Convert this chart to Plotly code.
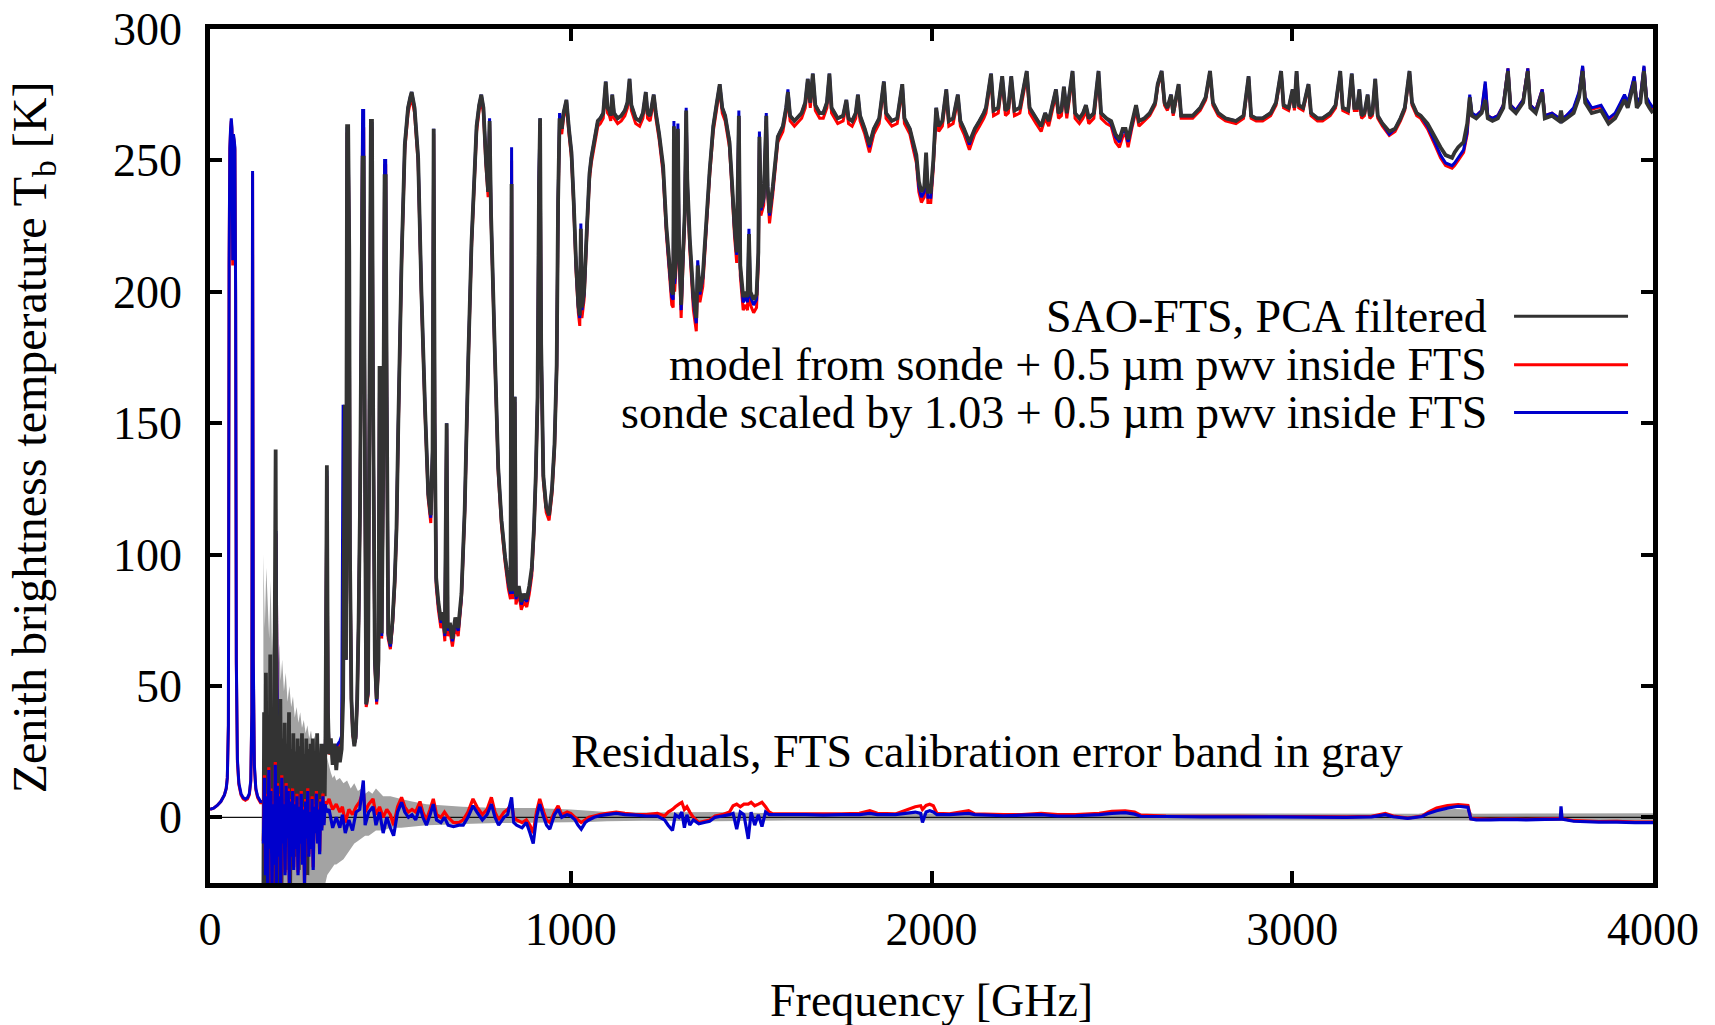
import plotly.graph_objects as go

# ---------------- axes ----------------
x_range = [0, 4000]
y_range = [-25, 300]
x_ticks = [0, 1000, 2000, 3000, 4000]
y_ticks = [0, 50, 100, 150, 200, 250, 300]

# ---------------- SAO-FTS (black), low-frequency noisy part ----------------
lf_fts_freq = [148, 150, 152, 155, 158, 161, 164, 167, 170, 173,
               176, 179, 182, 184, 186, 189, 192, 195, 198, 201,
               204, 207, 210, 213, 216, 219, 222, 225, 228, 231,
               234, 237, 240, 243, 246, 249, 252, 255, 258, 261,
               264, 267, 270, 273, 276, 279, 282, 285, 288, 291,
               294, 297, 300, 303, 306, 309, 312, 315, 318]
lf_fts_tb = [-30, 40, -30, 55, -20, 30, -30, 62, -15, 35,
             -30, 60, 140, 40, -30, 38, -10, 45, -30, 30,
             0, 36, -20, 28, -5, 40, -30, 26, 2, 32,
             -15, 25, 5, 30, -20, 27, 0, 32, -12, 24,
             3, 30, -22, 26, 6, 28, -5, 30, 8, 25,
             -2, 32, 10, 22, 2, 28, 12, 20, 8]

# ---------------- model (red/blue), below 320 GHz ----------------
lf_model_freq = [0, 10, 20, 30, 40, 45, 48, 51, 53, 55,
                 57, 59, 61, 63, 65, 67, 69, 71, 73, 76,
                 80, 86, 92, 98, 104, 109, 113, 116, 118, 120,
                 123, 127, 132, 140, 150, 160, 168, 173, 177, 180,
                 183, 186, 189, 193, 200, 215, 235, 255, 275, 295,
                 310, 316]
lf_blue = [3, 3.5, 4.5, 6, 8.5, 11, 15, 35, 212, 255,
           262, 266, 262, 212, 260, 258, 255, 200, 60, 22,
           13, 9, 7.5, 7, 7.5, 9, 14, 40, 246, 60,
           20, 11, 8, 6, 6, 6.5, 8, 12, 25, 60,
           109, 50, 20, 13, 10, 9.5, 11, 13, 16, 19,
           23, 27]
lf_red = [3, 3.5, 4.5, 6, 8.5, 11, 15, 35, 210, 254,
          261, 265, 261, 210, 259, 257, 254, 198, 58, 21,
          12.5, 8.5, 7, 6.5, 7, 8.5, 13.5, 39, 245, 58,
          19, 10.5, 7.5, 5.5, 5.5, 6, 7.5, 11.5, 24, 58,
          108, 49, 19, 12.5, 9.5, 9, 10.5, 12.5, 15.5, 18.5,
          22.5, 26.5]

# ---------------- common grid above 320 GHz ----------------
hf_freq = [320, 324, 327, 330, 335, 340, 345, 350, 355, 360,
           365, 369, 371, 374, 377, 380, 383, 386, 388, 392,
           396, 400, 404, 408, 412, 416, 420, 423, 426, 429,
           433, 438, 442, 446, 449, 452, 457, 462, 467, 470,
           473, 476, 480, 484, 487, 490, 494, 500, 506, 512,
           517, 522, 531, 540, 549, 555, 559, 563, 567, 577,
           586, 596, 605, 612, 617, 620, 623, 627, 633, 640,
           646, 651, 656, 659, 665, 672, 680, 688, 697, 706,
           716, 725, 739, 746, 752, 758, 765, 771, 775, 779,
           785, 790, 799, 808, 818, 827, 833, 836, 839, 845,
           848, 856, 863, 870, 878, 885, 892, 898, 903, 908,
           912, 915, 918, 924, 932, 940, 948, 955, 961, 965,
           969, 975, 980, 988, 995, 1002, 1008, 1015, 1021, 1025,
           1028, 1031, 1037, 1045, 1052, 1057, 1066, 1075, 1082, 1090,
           1097, 1102, 1107, 1111, 1115, 1120, 1130, 1140, 1150, 1157,
           1163, 1168, 1180, 1191, 1200, 1208, 1213, 1220, 1230, 1236,
           1245, 1256, 1265, 1274, 1280, 1284, 1286, 1288, 1293, 1297,
           1300, 1306, 1310, 1316, 1320, 1323, 1330, 1340, 1348, 1352,
           1358, 1366, 1375, 1385, 1395, 1405, 1413, 1420, 1428, 1440,
           1446, 1454, 1460, 1466, 1470, 1478, 1485, 1490, 1494, 1498,
           1507, 1515, 1520, 1523, 1527, 1535, 1542, 1546, 1551, 1560,
           1574, 1588, 1597, 1602, 1608, 1620, 1640, 1650, 1657, 1664,
           1671, 1678, 1690, 1700, 1710, 1717, 1723, 1740, 1755, 1764,
           1770, 1780, 1790, 1796, 1802, 1815, 1828, 1840, 1855, 1868,
           1874, 1890, 1905, 1919, 1925, 1940, 1958, 1965, 1972, 1980,
           1985, 1990, 1998, 2005, 2013, 2020, 2030, 2041, 2048, 2060,
           2073, 2080, 2090, 2105, 2120, 2133, 2145, 2151, 2165, 2172,
           2185, 2196, 2205, 2213, 2221, 2230, 2245, 2264, 2272, 2290,
           2304, 2315, 2325, 2345, 2352, 2360, 2367, 2375, 2391, 2398,
           2410, 2420, 2428, 2436, 2450, 2463, 2470, 2485, 2498, 2510,
           2521, 2530, 2538, 2545, 2555, 2567, 2575, 2590, 2605, 2620,
           2627, 2638, 2646, 2654, 2664, 2670, 2685, 2692, 2705, 2724,
           2745, 2760, 2772, 2780, 2795, 2815, 2844, 2865, 2879, 2886,
           2900, 2918, 2940, 2955, 2969, 2976, 2990, 3001, 3006, 3012,
           3018, 3030, 3045, 3052, 3070, 3084, 3105, 3120, 3133, 3140,
           3155, 3165, 3172, 3180, 3186, 3192, 3200, 3209, 3215, 3222,
           3230, 3237, 3250, 3269, 3285, 3300, 3312, 3325, 3332, 3345,
           3356, 3375, 3395, 3411, 3425, 3443, 3450, 3460, 3475, 3485,
           3492, 3498, 3510, 3525, 3535, 3542, 3555, 3570, 3585, 3598,
           3605, 3620, 3640, 3653, 3660, 3675, 3693, 3700, 3720, 3740,
           3745, 3750, 3760, 3780, 3795, 3805, 3812, 3830, 3856, 3877,
           3895, 3910, 3921, 3930, 3948, 3955, 3965, 3975, 3982, 3990,
           4000]

hf_fts = [30, 134, 40, 24, 30, 20, 28, 18, 27, 21,
          26, 45, 100, 157, 60, 263, 263, 215, 100, 45,
          32, 27, 31, 45, 75, 120, 200, 251, 251, 150,
          43, 48, 160, 265, 265, 160, 60, 45, 60, 171,
          171, 70, 130, 244, 244, 160, 70, 66, 75, 90,
          110, 150, 212, 256, 270, 274, 276, 273, 270, 251,
          200, 156, 123, 115, 140, 262, 150, 91, 82, 75,
          78, 70, 150, 72, 74, 68, 76, 72, 85, 117,
          175, 219, 263, 271, 275, 270, 250, 238, 265, 230,
          200, 175, 133, 113, 99, 90, 86, 241, 86, 160,
          84, 88, 82, 85, 83, 88, 95, 110, 130, 160,
          240, 266, 180, 130, 118, 115, 125, 142, 172, 235,
          266, 262, 268, 273, 262, 253, 235, 210, 195, 191,
          224, 194, 200, 225, 245, 251, 258, 265, 266, 268,
          280, 270, 269, 267, 275, 268, 266, 267, 269, 272,
          281, 271, 266, 265, 268, 276, 268, 267, 275, 268,
          260, 248, 225, 210, 200, 199, 263, 205, 215, 262,
          220, 195, 210, 230, 269, 243, 220, 198, 190, 210,
          200, 206, 225, 246, 263, 272, 279, 270, 267, 257,
          244, 225, 215, 267, 210, 198, 200, 198, 222, 200,
          197, 199, 215, 259, 232, 236, 267, 240, 230, 240,
          259, 263, 270, 276, 267, 265, 268, 272, 281, 272,
          283, 271, 268, 268, 272, 283, 270, 266, 267, 273,
          266, 265, 268, 275, 267, 262, 256, 262, 266, 280,
          268, 265, 266, 279, 266, 262, 252, 242, 238, 240,
          253, 238, 238, 250, 270, 263, 265, 277, 265, 266,
          275, 265, 262, 257, 262, 265, 268, 270, 283, 269,
          270, 282, 269, 270, 282, 269, 270, 284, 270, 266,
          263, 268, 265, 277, 268, 269, 278, 268, 284, 268,
          266, 268, 271, 266, 268, 284, 268, 266, 265, 260,
          258, 262, 262, 258, 264, 271, 265, 266, 268, 272,
          279, 284, 272, 270, 275, 268, 279, 267, 267, 267,
          270, 274, 284, 272, 268, 266, 265, 267, 282, 267,
          266, 266, 268, 272, 284, 271, 270, 277, 270, 284,
          271, 270, 279, 268, 266, 266, 268, 271, 284, 270,
          269, 283, 270, 270, 277, 267, 268, 275, 267, 268,
          281, 267, 264, 261, 262, 266, 270, 284, 272, 268,
          267, 264, 259, 255, 252, 251, 253, 255, 257, 264,
          274, 267, 266, 268, 273, 266, 265, 266, 270, 284,
          270, 268, 272, 284, 270, 268, 276, 266, 267, 265,
          269, 265, 266, 268, 274, 284, 272, 268, 269, 264,
          266, 270, 273, 270, 280, 270, 272, 284, 272, 270,
          268]

hf_red = [28, 130, 40, 24, 25, 25, 26, 26, 27, 28,
          30, 60, 90, 150, 60, 260, 260, 212, 100, 44,
          31, 28, 30, 44, 74, 118, 200, 262, 262, 150,
          42, 46, 158, 262, 262, 158, 58, 43, 58, 168,
          168, 68, 128, 248, 248, 158, 68, 64, 73, 88,
          108, 148, 210, 254, 268, 272, 274, 271, 268, 249,
          198, 154, 121, 112, 138, 260, 148, 88, 79, 72,
          75, 67, 148, 69, 71, 65, 73, 69, 83, 115,
          173, 217, 261, 269, 273, 268, 248, 236, 264, 228,
          198, 173, 131, 111, 97, 87, 83, 250, 83, 158,
          81, 85, 79, 82, 80, 85, 92, 108, 128, 158,
          240, 264, 178, 128, 116, 113, 123, 140, 170, 233,
          264, 260, 266, 271, 260, 251, 233, 207, 192, 187,
          222, 190, 197, 223, 243, 249, 256, 263, 264, 266,
          278, 268, 267, 265, 273, 266, 264, 265, 267, 270,
          279, 269, 264, 263, 266, 274, 266, 265, 273, 266,
          258, 245, 222, 206, 195, 194, 262, 200, 211, 261,
          216, 190, 206, 227, 268, 240, 216, 193, 185, 206,
          196, 202, 222, 244, 261, 270, 277, 268, 265, 255,
          241, 221, 211, 266, 206, 193, 195, 193, 218, 195,
          192, 194, 211, 257, 229, 233, 265, 237, 226, 237,
          257, 261, 268, 274, 265, 263, 266, 270, 279, 270,
          281, 269, 266, 266, 270, 281, 268, 264, 265, 271,
          264, 263, 266, 273, 265, 260, 253, 260, 264, 278,
          266, 263, 264, 277, 264, 260, 249, 238, 234, 236,
          250, 234, 234, 247, 268, 261, 263, 275, 263, 264,
          273, 263, 260, 254, 260, 263, 266, 268, 281, 267,
          268, 280, 267, 268, 280, 267, 268, 282, 268, 264,
          261, 266, 263, 275, 266, 267, 276, 266, 282, 266,
          264, 266, 269, 264, 266, 282, 266, 264, 263, 257,
          255, 259, 260, 255, 262, 269, 263, 265, 267, 271,
          278, 283, 271, 269, 274, 267, 278, 266, 266, 266,
          269, 273, 283, 271, 267, 265, 264, 266, 281, 266,
          265, 265, 267, 271, 283, 270, 269, 276, 269, 283,
          270, 269, 278, 267, 265, 265, 267, 270, 283, 269,
          268, 282, 269, 269, 276, 266, 267, 274, 266, 267,
          280, 266, 263, 259.5, 261, 265, 269, 283, 271, 267,
          266, 262, 256, 251, 248, 247, 248, 250, 253, 260,
          274, 267, 267, 269, 279, 267, 266, 267, 271, 285,
          271, 269, 273, 285, 271, 269, 277, 267, 268, 266,
          266, 266, 267, 269.5, 275.5, 285.5, 273.5, 269.5, 270.5, 265.5,
          267.5, 271.5, 274.5, 271.5, 281.5, 271.5, 273.5, 285.5, 273.5, 271.5,
          269.5]

hf_blue = [28, 132, 40, 25, 26, 26, 27, 27, 28, 29,
           31, 157, 100, 150, 60, 262, 262, 214, 100, 45,
           32, 28, 30, 45, 75, 120, 200, 269, 269, 150,
           43, 47, 160, 264, 264, 160, 59, 44, 59, 170,
           170, 69, 130, 250, 250, 160, 69, 65, 74, 90,
           110, 150, 212, 256, 270, 274, 276, 273, 270, 251,
           200, 156, 123, 114, 140, 262, 150, 90, 81, 74,
           77, 69, 150, 71, 73, 67, 75, 71, 84, 117,
           175, 219, 263, 271, 275, 270, 250, 238, 266, 230,
           200, 175, 133, 113, 99, 89, 85, 255, 85, 160,
           83, 87, 81, 84, 82, 87, 94, 110, 130, 160,
           245, 266, 180, 130, 118, 115, 125, 142, 172, 235,
           268, 262, 268, 273, 262, 253, 235, 209, 194, 190,
           226, 193, 199, 225, 245, 251, 258, 265, 266, 268,
           280, 270, 269, 267, 275, 268, 266, 267, 269, 272,
           281, 271, 266, 265, 268, 276, 268, 267, 275, 268,
           260, 247, 224, 208, 198, 197, 265, 203, 214, 264,
           219, 193, 209, 229, 270, 242, 219, 196, 188, 212,
           199, 205, 224, 246, 263, 272, 279, 270, 267, 257,
           243, 224, 214, 269, 209, 196, 198, 196, 224, 198,
           195, 197, 214, 261, 231, 235, 268, 239, 229, 239,
           259, 263, 270, 277, 267, 265, 268, 272, 281, 272,
           283, 271, 268, 268, 272, 283, 270, 266, 267, 273,
           266, 265, 268, 275, 267, 262, 255, 262, 266, 280,
           268, 265, 266, 279, 266, 262, 251, 240, 236, 238,
           252, 236, 236, 249, 270, 263, 265, 277, 265, 266,
           275, 265, 262, 256, 262, 265, 268, 270, 283, 269,
           270, 282, 269, 270, 282, 269, 270, 284, 270, 266,
           263, 268, 265, 277, 268, 269, 278, 268, 284, 268,
           266, 268, 271, 266, 268, 284, 268, 266, 264, 259,
           257, 261, 261, 257, 263, 271, 265, 266, 268, 272,
           279, 284, 272, 270, 275, 268, 279, 267, 267, 267,
           270, 274, 284, 272, 268, 266, 265, 267, 282, 267,
           266, 266, 268, 272, 284, 271, 270, 277, 270, 284,
           271, 270, 279, 268, 266, 266, 268, 271, 284, 270,
           269, 283, 270, 270, 277, 267, 268, 275, 267, 268,
           281, 267, 264, 260, 262, 266, 270, 284, 272, 268,
           267, 263, 257, 252, 249, 248, 249, 251, 254, 261,
           275, 268, 267, 269, 280, 267, 266, 267, 271, 285,
           271, 269, 273, 285, 271, 269, 277, 267, 268, 266,
           265, 266, 267, 270, 276, 286, 274, 270, 271, 266,
           268, 272, 275, 272, 282, 272, 274, 286, 274, 272,
           270]

# ---------------- residuals ----------------
res_freq = [148, 151, 154, 157, 160, 163, 166, 169, 172, 175,
            178, 181, 184, 187, 190, 193, 196, 199, 202, 205,
            208, 211, 214, 217, 220, 223, 226, 229, 232, 235,
            238, 241, 244, 247, 250, 253, 256, 259, 262, 265,
            268, 271, 274, 277, 280, 283, 286, 289, 292, 295,
            298, 301, 304, 307, 310, 313, 316, 319,
            323, 330, 340, 350, 360, 367, 375, 385, 395, 405,
            415, 425, 430, 440, 452, 460, 470, 480, 490, 500,
            509, 520, 531, 540, 550, 560, 570, 582, 590, 600,
            610, 619, 628, 640, 650, 660, 675, 690, 702, 715,
            729, 740, 755, 768, 780, 790, 800, 815, 825, 836,
            842, 850, 865, 877, 887, 896, 905, 914, 925, 933,
            942, 955, 965, 975, 990, 1000, 1012, 1020, 1029, 1040,
            1050, 1065, 1080, 1100, 1126, 1150, 1180, 1210, 1240, 1260,
            1270, 1282, 1290, 1300, 1308, 1315, 1322, 1330, 1340, 1355,
            1370, 1385, 1400, 1420, 1440, 1450, 1460, 1470, 1480, 1492,
            1500, 1510, 1520, 1530, 1540, 1550, 1560, 1600, 1650, 1700,
            1750, 1800, 1829, 1850, 1900, 1955, 1970, 1975, 1985, 1995,
            2005, 2015, 2050, 2103, 2120, 2200, 2250, 2304, 2350, 2400,
            2465, 2500, 2537, 2563, 2580, 2650, 2750, 2850, 2950, 3050,
            3150, 3220, 3258, 3280, 3320, 3360, 3377, 3400, 3430, 3460,
            3487, 3495, 3510, 3550, 3600, 3650, 3700, 3743, 3745, 3748,
            3780, 3850, 3900, 3950, 4000]
res_red = [-9, 16, -21, 9, -27, 19, -11, 11, -27, 6,
           -17, 21, -27, 13, -14, 9, -27, 16, -9, 6,
           -21, 13, -7, 11, -27, 7, -14, 11, -19, 6,
           -11, 9, -21, 5, -9, 10, -17, 4, -25, 7,
           -7, 11, -14, 3, -11, 8, -19, 5, -5, 10,
           -9, 4, -13, 7, -4, 9, -2, 6,
           5, 7, 3, 5, 2, 4, -2, 3, 1, 4,
           6, 10, 2, 5, 7, 1, 4, 0, 3, 1,
           -3, 4, 7.6, 4, 2, 3, 2, 6, 2, -1,
           3, 7, 1, 0, 2, 0, -2, -2, -1, 2,
           7, 4, 1, 3, 7.6, 2, -1, 2, 3, 5,
           0, -1, -2, -1, -3, -6, 2, 7, 2, -1,
           -2, 2, 4.4, 1, 2, 1.5, 0, -1, -2, -1,
           0, 0.5, 1, 1.5, 2, 1.5, 1, 1, 1.5, 0.5,
           2, 3, 4, 5, 5.7, 3, 4, 2, 0, -2,
           -1.5, -1, 0.5, 1, 2, 4.4, 5, 4, 5, 5,
           5.7, 4.4, 5, 5.7, 4, 2, 1.3, 1.3, 1.3, 1.3,
           1.3, 1.5, 2.5, 1.5, 1.3, 4, 4.4, 3, 4.5, 5,
           4.4, 1.5, 1.3, 2.5, 1.3, 1, 1, 1.5, 1, 1,
           1.5, 2.3, 2.5, 2, 0.8, 0.5, 0.4, 0.4, 0.3, 0.3,
           0.2, 0.4, 1.5, 0.5, -0.3, 0.5, 2, 3.5, 4.5, 4.8,
           4.5, -0.5, -0.6, -0.8, -0.6, -0.8, -0.6, -0.5, -0.5, -0.5,
           -1.3, -1.6, -1.5, -1.8, -1.8]
res_blue = [-10, 15, -22, 8, -28, 18, -12, 10, -28, 5,
            -18, 20, -28, 12, -15, 8, -28, 15, -10, 5,
            -22, 12, -8, 10, -28, 6, -15, 10, -20, 5,
            -12, 8, -22, 4, -10, 9, -18, 3, -26, 6,
            -8, 10, -15, 2, -12, 7, -20, 4, -6, 9,
            -10, 3, -14, 6, -5, 8, -3, 5,
            2, 3, -4, 0, -4, 1, -6, -1, -5, 2,
            3, 14, -3, 2, 4, -3, 2, -6, 0, -4,
            -7, 2, 5.7, 2, 0, 1, -1, 4, 0, -3,
            1, 5, -1, -2, 0, -3, -3.5, -3, -3, 0,
            4.4, 2, -1, 1, 5, 0, -3, 0, 1, 7.6,
            -2, -3, -4, -2, -6, -10, 0, 5, 0, -3,
            -4.5, 1, 3, 0, 1, 0.5, -1, -3, -4.5, -2,
            -1, 0, 0.6, 1, 1.5, 1, 0.8, 0.5, 0.5, -1,
            -3, -5, 1, 0, 2, -4, 1, -3, -1, -2.5,
            -2, -1.5, 0, 0.5, 1, 1.5, -4.5, 2, 1, -8.2,
            2, -3, 1, -3.5, 2, 1, 1, 1, 1, 0.8,
            1, 1, 1.5, 1, 1, 2, 1.5, -2, 2, 2.5,
            2, 1, 1, 1.5, 1, 0.6, 0.8, 1, 0.5, 0.6,
            1, 1.5, 1.8, 1.2, 0.4, 0.3, 0.2, 0.2, 0.2, 0.1,
            0, 0.2, 1, 0.2, -0.4, 0.3, 1.5, 2.5, 3.5, 4.2,
            3.8, -0.6, -1, -1, -0.8, -1, -0.8, -0.7, 4.2, -0.7,
            -1.5, -1.8, -1.8, -2, -2]

# ---------------- FTS calibration error band ----------------
band_freq = [148, 152, 156, 160, 164, 168, 172, 176, 180, 184,
             188, 192, 196, 200, 205, 210, 215, 220, 225, 230,
             235, 240, 245, 250, 255, 260, 265, 270, 275, 280,
             285, 290, 295, 300, 305, 310, 315, 320, 325, 330,
             335, 340, 345, 350, 360, 370, 380, 390, 400, 410,
             420, 430, 440, 450, 460, 480, 500, 530, 560, 600,
             650, 700, 800, 900, 1000, 1050, 1100, 1200, 1400, 1600,
             2000, 2500, 3000, 3350, 3400, 3450, 3490, 3500, 4000]
band_hi = [100, 72, 95, 80, 68, 90, 62, 75, 70, 105,
           58, 66, 52, 60, 48, 55, 44, 50, 42, 46,
           38, 42, 36, 40, 34, 37, 32, 35, 30, 33,
           28, 31, 27, 29, 25, 27, 23, 25, 22, 20,
           17, 15, 16, 14, 15, 13, 14, 11, 13, 10,
           11, 9, 10, 9, 11, 8, 8, 7, 6, 5,
           4.5, 4, 3.5, 3.5, 3, 2.5, 2, 1.8, 2, 1.5,
           1.5, 1.5, 1.4, 1.4, 2.5, 3.2, 3.0, 1.4, 1.5]
band_lo = [-60, -60, -60, -60, -60, -60, -60, -60, -60, -60,
           -60, -60, -60, -60, -60, -50, -50, -50, -45, -45,
           -40, -40, -40, -38, -36, -36, -34, -34, -32, -32,
           -30, -30, -28, -28, -27, -27, -26, -25, -22, -21,
           -20, -19, -18, -18, -17, -16, -14, -12, -10, -9,
           -8, -7, -7, -6, -5, -5, -4, -4, -3.5, -3,
           -2.8, -2.5, -2.2, -2, -2, -1.8, -1.5, -1.3, -1.5, -1.2,
           -1.2, -1.2, -1.1, -1.1, -1.0, -1.0, -1.0, -1.2, -1.5]

legend_labels = ["SAO-FTS, PCA filtered",
                 "model from sonde + 0.5 \u00b5m pwv inside FTS",
                 "sonde scaled by 1.03 + 0.5 \u00b5m pwv inside FTS"]
colors = {"fts": "#333333", "red": "#ff0000", "blue": "#0000cc", "band": "#a3a3a3"}

assert len(lf_fts_freq) == len(lf_fts_tb)
assert len(lf_model_freq) == len(lf_blue) == len(lf_red)
assert len(hf_freq) == len(hf_fts) == len(hf_red) == len(hf_blue)
assert len(res_freq) == len(res_red) == len(res_blue)
assert len(band_freq) == len(band_hi) == len(band_lo)

fts_freq = lf_fts_freq + hf_freq
fts_tb = lf_fts_tb + hf_fts
model_freq = lf_model_freq + hf_freq
model_red = lf_red + hf_red
model_blue = lf_blue + hf_blue

FONT = "Liberation Serif"

fig = go.Figure()
fig.add_trace(go.Scatter(x=band_freq, y=band_lo, mode="lines", line=dict(width=0),
                         hoverinfo="skip", showlegend=False))
fig.add_trace(go.Scatter(x=band_freq, y=band_hi, mode="lines", line=dict(width=0),
                         fill="tonexty", fillcolor=colors["band"], hoverinfo="skip", showlegend=False))
fig.add_trace(go.Scatter(x=x_range, y=[0, 0], mode="lines",
                         line=dict(color="#111111", width=1.2), showlegend=False))
fig.add_trace(go.Scatter(x=model_freq, y=model_red, mode="lines",
                         line=dict(color=colors["red"], width=3, simplify=False), showlegend=False))
fig.add_trace(go.Scatter(x=model_freq, y=model_blue, mode="lines",
                         line=dict(color=colors["blue"], width=3, simplify=False), showlegend=False))
fig.add_trace(go.Scatter(x=fts_freq, y=fts_tb, mode="lines",
                         line=dict(color=colors["fts"], width=3.8, simplify=False), showlegend=False))
fig.add_trace(go.Scatter(x=res_freq, y=res_red, mode="lines",
                         line=dict(color=colors["red"], width=3.2, simplify=False), showlegend=False))
fig.add_trace(go.Scatter(x=res_freq, y=res_blue, mode="lines",
                         line=dict(color=colors["blue"], width=3.2, simplify=False), showlegend=False))

axis_common = dict(showgrid=False, zeroline=False, showline=True, linecolor="black", linewidth=4.5,
                   mirror="allticks", ticks="inside", ticklen=12, tickwidth=4, tickcolor="black",
                   tickfont=dict(family=FONT, size=46, color="black"), layer="above traces",
                   automargin=False)

fig.update_layout(
    width=1715, height=1025,
    margin=dict(l=210, r=62, t=29, b=142),
    paper_bgcolor="white", plot_bgcolor="white",
    showlegend=False,
    font=dict(family=FONT, color="black"),
    xaxis=dict(range=x_range, tickvals=x_ticks, ticktext=[str(v) for v in x_ticks],
               ticklabelstandoff=2, **axis_common),
    yaxis=dict(range=y_range, tickvals=y_ticks, ticktext=[str(v) for v in y_ticks],
               ticklabelstandoff=14, **axis_common),
)

annotations = [
    dict(text="Frequency [GHz]", xref="paper", yref="paper", x=0.5, y=-0.138,
         xanchor="center", yanchor="middle", showarrow=False, font=dict(family=FONT, size=46)),
    dict(text="Zenith brightness temperature T<sub>b</sub> [K]", xref="paper", yref="paper",
         x=-0.1226, y=0.522, xanchor="center", yanchor="middle", textangle=-90,
         showarrow=False, font=dict(family=FONT, size=48)),
    dict(text="Residuals, FTS calibration error band in gray", xref="x", yref="y",
         x=2155, y=25, xanchor="center", yanchor="middle", showarrow=False,
         font=dict(family=FONT, size=46)),
]
legend_y = [0.6635, 0.6069, 0.551]
legend_colors = [colors["fts"], colors["red"], colors["blue"]]
shapes = []
for lab, yy, col in zip(legend_labels, legend_y, legend_colors):
    annotations.append(dict(text=lab, xref="paper", yref="paper", x=0.8864, y=yy,
                            xanchor="right", yanchor="middle", showarrow=False,
                            font=dict(family=FONT, size=46)))
    shapes.append(dict(type="line", xref="paper", yref="paper", x0=0.9037, x1=0.9827,
                       y0=yy, y1=yy, line=dict(color=col, width=3)))
fig.update_layout(annotations=annotations, shapes=shapes)

fig.write_html("out.html")
